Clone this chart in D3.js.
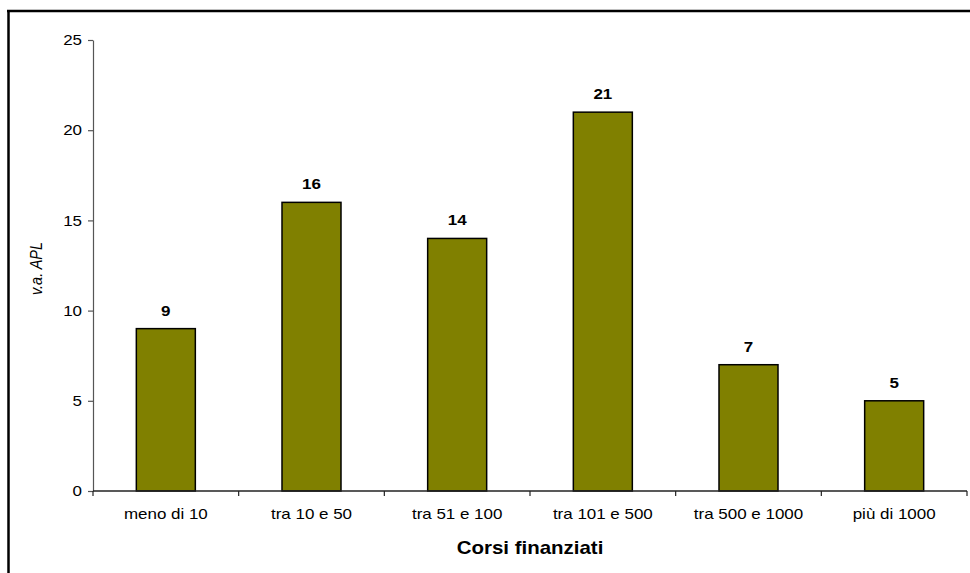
<!DOCTYPE html>
<html>
<head>
<meta charset="utf-8">
<script src="https://cdn.jsdelivr.net/npm/d3@7"></script>
<style>
  html, body { margin: 0; padding: 0; background: #fff; }
  svg { display: block; font-family: "Liberation Sans", Arial, sans-serif; }
</style>
</head>
<body>
<svg id="chart" width="970" height="573"></svg>
<script>
// Numero di APL per classe di corsi finanziati
const categories = ["meno di 10", "tra 10 e 50", "tra 51 e 100", "tra 101 e 500", "tra 500 e 1000", "più di 1000"];
const values = [9, 16, 14, 21, 7, 5];
const yTicks = [0, 5, 10, 15, 20, 25];
const xTitle = "Corsi finanziati";
const yTitle = "v.a. APL";

const W = 970, H = 573;
const plot = { left: 93, right: 967, top: 40, bottom: 491 };
const stretch = 1.17; // horizontal stretch of the lettering

const svg = d3.select("#chart");

// outer frame (left and top edges)
svg.append("line").attr("x1", 8.5).attr("x2", 8.5).attr("y1", 10).attr("y2", H)
  .attr("stroke", "#000").attr("stroke-width", 2.5);
svg.append("line").attr("x1", 7).attr("x2", W).attr("y1", 11).attr("y2", 11)
  .attr("stroke", "#000").attr("stroke-width", 2.5);

const x = d3.scaleBand()
  .domain(categories)
  .range([plot.left, plot.right])
  .paddingInner(0.595)
  .paddingOuter(0.595 / 2);

const y = d3.scaleLinear()
  .domain([0, 25])
  .range([plot.bottom, plot.top]);

// y axis
const yAxis = svg.append("g")
  .attr("transform", `translate(${plot.left},0)`)
  .call(d3.axisLeft(y).tickValues(yTicks).tickSize(5).tickSizeOuter(0).tickPadding(6));
yAxis.select(".domain").attr("stroke", "#555").attr("stroke-width", 1.2);
yAxis.selectAll(".tick line").attr("stroke", "#555").attr("stroke-width", 1.2);
yAxis.selectAll(".tick text")
  .attr("font-size", 14.5).attr("fill", "#000")
  .attr("font-family", "'Liberation Sans', Arial, sans-serif")
  .attr("x", -11 / stretch)
  .attr("transform", `scale(${stretch},1)`);

// bars
svg.append("g").selectAll("rect")
  .data(values)
  .join("rect")
  .attr("x", (d, i) => x(categories[i]))
  .attr("y", d => y(d))
  .attr("width", x.bandwidth())
  .attr("height", d => y(0) - y(d))
  .attr("fill", "#808000")
  .attr("stroke", "#000")
  .attr("stroke-width", 1.5);

// x axis: category labels at band centres, ticks at band boundaries
const xAxis = svg.append("g")
  .attr("transform", `translate(0,${plot.bottom})`)
  .call(d3.axisBottom(x).tickSize(0).tickSizeOuter(0).tickPadding(0));
xAxis.select(".domain").remove();
xAxis.selectAll(".tick text")
  .attr("font-size", 14.5).attr("fill", "#000")
  .attr("font-family", "'Liberation Sans', Arial, sans-serif")
  .attr("y", 28).attr("dy", 0)
  .attr("transform", `scale(${stretch},1)`);

svg.append("line")
  .attr("x1", plot.left).attr("x2", plot.right)
  .attr("y1", plot.bottom).attr("y2", plot.bottom)
  .attr("stroke", "#222").attr("stroke-width", 1.5);

const bounds = d3.range(categories.length + 1).map(i => plot.left + i * x.step());
svg.append("g").selectAll("line")
  .data(bounds)
  .join("line")
  .attr("x1", d => d).attr("x2", d => d)
  .attr("y1", plot.bottom).attr("y2", plot.bottom + 5)
  .attr("stroke", "#222").attr("stroke-width", 1.2);

// value labels above bars
svg.append("g").selectAll("text")
  .data(values)
  .join("text")
  .attr("transform", (d, i) => `translate(${x(categories[i]) + x.bandwidth() / 2},${y(d) - 13}) scale(${stretch},1)`)
  .attr("text-anchor", "middle")
  .attr("font-size", 14.5)
  .attr("font-weight", "bold")
  .text(d => d);

// axis titles
svg.append("text")
  .attr("transform", `translate(${(plot.left + plot.right) / 2},${554}) scale(${stretch},1)`)
  .attr("text-anchor", "middle")
  .attr("font-size", 17.5)
  .attr("font-weight", "bold")
  .text(xTitle);

svg.append("text")
  .attr("transform", `translate(42,${(plot.top + plot.bottom) / 2 + 3}) rotate(-90) scale(1,${stretch})`)
  .attr("text-anchor", "middle")
  .attr("font-size", 14.5)
  .attr("font-style", "italic")
  .text(yTitle);
</script>
</body>
</html>
